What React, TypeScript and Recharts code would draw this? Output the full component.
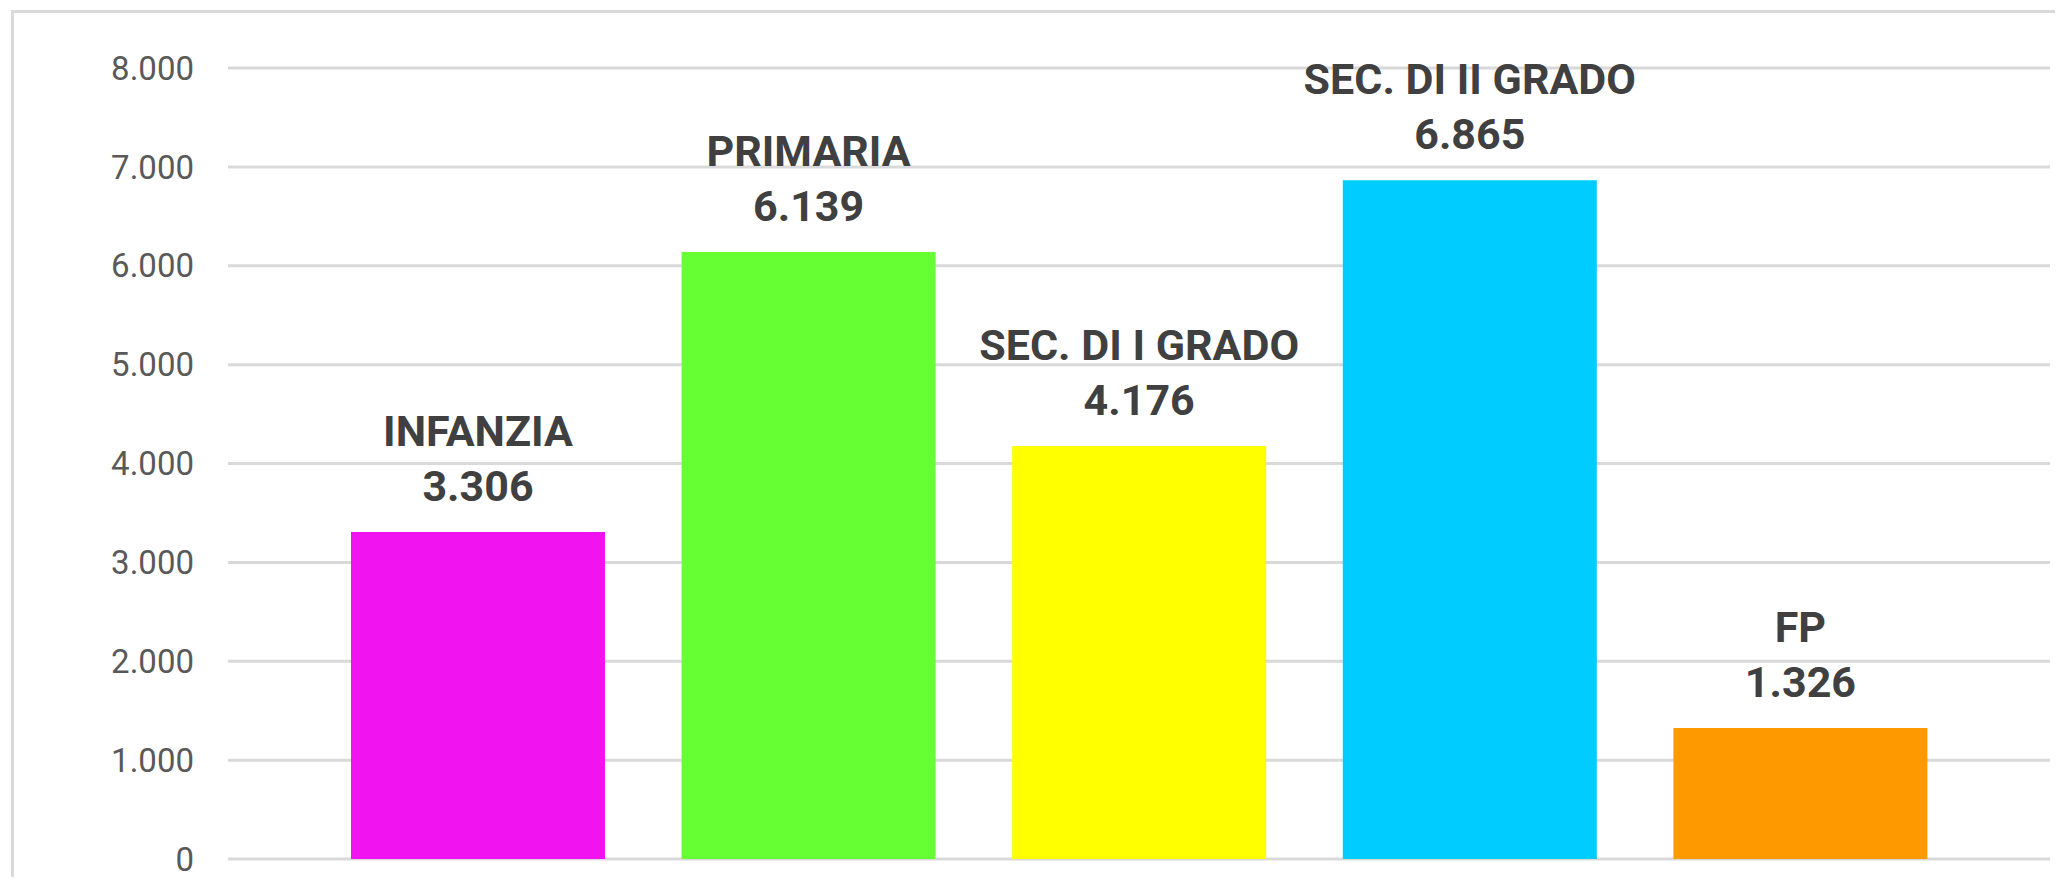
import React from "react";
import { BarChart, Bar, XAxis, YAxis, CartesianGrid, Cell, LabelList } from "recharts";

const categories = ["INFANZIA", "PRIMARIA", "SEC. DI I GRADO", "SEC. DI II GRADO", "FP"];
const values = [3306, 6139, 4176, 6865, 1326];
const valueLabels = ["3.306", "6.139", "4.176", "6.865", "1.326"];
const barColors = ["#F114F1", "#66FF33", "#FFFF00", "#00CCFF", "#FF9900"];
const yTicks = [0, 1000, 2000, 3000, 4000, 5000, 6000, 7000, 8000];
const yTickLabels = ["0", "1.000", "2.000", "3.000", "4.000", "5.000", "6.000", "7.000", "8.000"];

const data = categories.map((c, i) => ({ name: c, value: values[i], label: valueLabels[i] }));

const FONT = "Roboto, 'Open Sans', sans-serif";

const BarLabel = (props: any) => {
  const { x, y, width, index } = props;
  const cx = x + width / 2;
  return (
    <g>
      <text x={cx} y={y - 101} textAnchor="middle" dominantBaseline="central"
        fontFamily={FONT} fontWeight={700} fontSize={43} fill="#404040">
        {categories[index]}
      </text>
      <text x={cx} y={y - 46} textAnchor="middle" dominantBaseline="central"
        fontFamily={FONT} fontWeight={700} fontSize={43} fill="#404040">
        {valueLabels[index]}
      </text>
    </g>
  );
};

export default function App() {
  return (
    <div style={{ position: "relative", margin: -8, width: 2063, height: 885, overflow: "hidden", background: "#fff" }}>
      <div style={{ position: "absolute", left: 11, top: 10, width: 2200, height: 1000, border: "3px solid #d9d9d9", boxSizing: "border-box" }} />
      <div style={{ position: "absolute", left: 0, top: 0 }}>
        <BarChart width={2063} height={885} data={data}
          margin={{ top: 68, right: 13, bottom: 26, left: 0 }}>
          <CartesianGrid vertical={false} stroke="#d9d9d9" strokeWidth={3} />
          <XAxis dataKey="name" hide height={0} padding={{ left: 85, right: 84 }} />
          <YAxis width={228} domain={[0, 8000]} ticks={yTicks} interval={0}
            axisLine={false} tickLine={false} tickSize={0} tickMargin={34}
            tickFormatter={(v: number) => yTickLabels[yTicks.indexOf(v)]}
            tick={{ fontFamily: FONT, fontSize: 33, fill: "#595959" }} />
          <Bar dataKey="value" barSize={254} isAnimationActive={false}>
            {data.map((d, i) => (
              <Cell key={d.name} fill={barColors[i]} />
            ))}
            <LabelList dataKey="value" content={<BarLabel />} />
          </Bar>
        </BarChart>
      </div>
    </div>
  );
}
